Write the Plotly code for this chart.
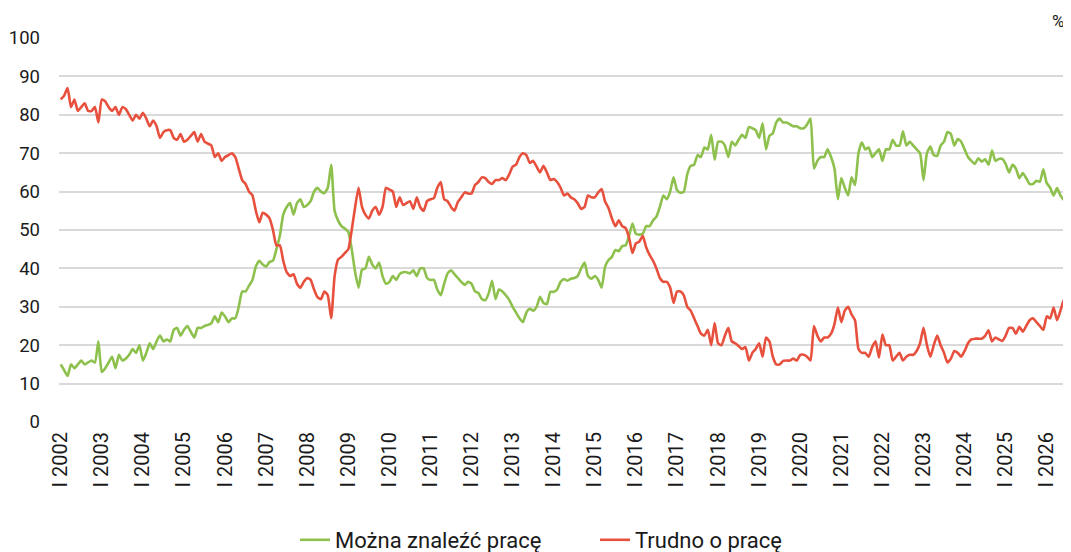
import plotly.graph_objects as go

years = list(range(2002, 2027))
roman = ["I", "II", "III", "IV", "V", "VI", "VII", "VIII", "IX", "X", "XI", "XII"]

mozna = [
    15, 13.5, 12, 15, 14, 15, 16, 15, 15.5, 16, 15.5, 21,
    13, 14, 15.5, 17, 14, 17.5, 16, 16.5, 17.5, 19, 18, 20,
    16, 18, 20.5, 19, 21, 22.5, 21, 21.5, 21, 24, 24.5, 22.5,
    24, 25, 23.5, 22, 24.5, 24.5, 25, 25.3, 25.7, 27.5, 26, 28.5,
    27.5, 26, 27, 27, 30, 34, 34, 35.5, 37, 40.5, 42, 41,
    40.5, 41.7, 42, 45, 48.5, 54, 56, 57, 54, 57, 58, 56,
    56.5, 57.5, 60, 61, 60, 59.6, 61, 67, 55, 52.5, 51, 50.4,
    49.5, 45, 39, 35, 39.7, 40, 43, 41, 40, 41.5, 38, 36,
    36.5, 38, 37, 38.5, 39, 39, 38.7, 39.5, 38, 40, 40, 37.5,
    37, 37, 34.5, 33, 36, 38.7, 39.5, 38.5, 37.5, 36.5, 35.7, 36.5,
    36, 34, 33.6, 32, 31.7, 33.5, 36.8, 32, 34.5, 34, 33, 31.8,
    30, 28.5, 27, 26, 28.5, 29.5, 29, 30, 32.6, 31, 30.7, 33.9,
    33.9, 34.5, 36.5, 37.2, 36.8, 37.3, 37.5, 38, 40, 41.5, 38, 37.3,
    38, 37, 35, 40.4, 42.2, 43, 44.8, 44.5, 45.8, 46, 48.5, 51.7,
    49, 48.8, 49, 51, 51, 52.5, 53.5, 56, 59, 58, 60, 63.7,
    60.4, 59.7, 60, 64.5, 66.7, 67, 69.5, 69, 71.5, 71, 74.8, 68.3,
    73, 73, 72, 69, 73, 72, 73.5, 74.8, 74, 76.8, 76.5, 76,
    74, 77.8, 71, 74.5, 75.2, 78, 79, 78, 78, 77.5, 77, 77,
    76.5, 76.5, 77.5, 79, 66, 68, 69, 69, 71, 69, 66, 58,
    63.5, 61, 59, 63.7, 61.7, 70, 72.8, 71, 71.5, 69, 70, 71,
    68, 71, 71, 73.5, 72, 72, 75.7, 72, 73, 72, 71, 70,
    63, 70, 71.7, 69.5, 69.3, 72, 73, 75.5, 75, 72, 73.7, 73,
    71, 69, 68, 67.2, 68.7, 67.8, 68.4, 67, 70.7, 68, 68.5, 68.5,
    67.2, 65, 67, 66, 63.5, 64.8, 63.5, 62, 62, 62.8, 62.6, 65.8,
    62.2, 61, 59, 60.9, 59, 57.8, 58.9,
]

trudno = [
    84, 85, 87, 82, 84, 81, 82, 83, 81, 81, 82, 78,
    84, 83.5, 82, 81, 82, 80, 82, 81.5, 80, 78.5, 80, 79,
    80.5, 79, 77, 78.5, 77, 74, 75.5, 76, 76, 74, 73.5, 75,
    73, 73.5, 74.5, 75.5, 73, 75, 73, 72.5, 72, 69, 70, 68,
    69, 69.5, 70, 69, 66, 63, 62, 60, 59, 55, 52, 54.5,
    54, 53, 50, 46, 46, 42, 39, 38, 38.5, 36, 35, 36.5,
    37.5, 37, 34.5, 32.5, 32, 34, 33, 27, 38, 42.3, 43, 44,
    45, 50, 56, 61, 56, 54, 53, 55, 56, 54, 56, 61,
    60.5, 60, 56, 58.5, 56.5, 57, 57.5, 55.5, 58.5, 56, 55, 57.5,
    58, 58.3, 61, 62.5, 58, 57.5, 56, 55, 57.3, 58.5, 59.8, 59.5,
    59.5, 61.7, 62.5, 63.7, 63.5, 62.5, 62, 63, 63, 63.5, 63, 64.5,
    66.5, 67, 69, 70, 69.5, 67.5, 68, 66.5, 65, 66.7, 65, 63,
    63.3, 62.5, 61, 59, 59.5, 58.5, 58, 57, 55.5, 56, 59, 58.5,
    58.5, 59.8, 60.7, 57.4, 55.7, 53, 51, 52.5, 51, 50.5, 48, 44,
    46.5, 47, 48.5, 45.5, 43.5, 42, 40, 37.5, 36.5, 36.5, 35, 31,
    34, 34, 33, 30, 29, 27, 25, 23, 22.5, 24, 20, 25.8,
    20.5, 20, 22.5, 24.5, 21, 20.5, 19.8, 19, 19.5, 16, 18, 19,
    20.5, 17, 22, 21, 17, 15, 15, 15.9, 16, 16, 16.5, 16,
    17.5, 17.5, 17, 16, 25, 22.5, 21, 22, 22, 23, 25.5, 29.8,
    26, 29, 30, 28, 26.5, 19, 18, 18, 17, 19.5, 21, 16.8,
    22.8, 20, 20, 16, 17, 18, 16, 17, 17.5, 17.5, 18.5, 20.5,
    24.5, 20, 17, 20, 22.5, 20, 18, 15.5, 16.5, 18.5, 18, 17,
    18.5, 20.5, 21.5, 21.7, 21.7, 21.7, 22.4, 23.9, 21, 22, 21.5, 21.1,
    22.5, 24.5, 24.5, 23, 24.8, 23.5, 25, 26.5, 27, 26, 25, 24,
    27.5, 27, 29.8, 26.5, 29, 31.8, 29,
]

n = min(len(mozna), len(trudno))
categories = [f"{roman[i % 12]} {years[0] + i // 12}" for i in range(n)]
tick_labels = [f"I {y}" for y in years]

GREEN = "#8dc04c"
RED = "#e8503e"
FONT = "Roboto"

# The page adds an 8px body margin, so the figure is sized to fit the window.
W, H = 1063, 544
L, R, T, B = 51, 2, 30, 130

fig = go.Figure()
fig.add_trace(go.Scatter(x=categories, y=mozna[:n], mode="lines", name="Można znaleźć pracę",
                         line=dict(color=GREEN, width=2.6, shape="spline", smoothing=0.5)))
fig.add_trace(go.Scatter(x=categories, y=trudno[:n], mode="lines", name="Trudno o pracę",
                         line=dict(color=RED, width=2.6, shape="spline", smoothing=0.5)))

fig.update_layout(
    width=W, height=H,
    margin=dict(l=L, r=R, t=T, b=B, autoexpand=False),
    paper_bgcolor="white", plot_bgcolor="white",
    font=dict(family=FONT, size=20, color="#1a1a1a"),
    showlegend=True,
    legend=dict(orientation="h", xref="container", yref="container",
                x=287 / W, xanchor="left", y=(H - 532) / H, yanchor="middle",
                font=dict(size=22), entrywidth=255, tracegroupgap=0),
    xaxis=dict(type="category", range=[-0.5, n - 0.5], tickmode="array",
               tickvals=tick_labels, ticktext=tick_labels, tickangle=-90,
               showgrid=False, zeroline=False, showline=False, ticks="",
               ticklabelstandoff=5, automargin=False, tickfont=dict(size=20)),
    yaxis=dict(range=[0, 100], dtick=10, showgrid=True, gridcolor="#d9d9d9", gridwidth=1.5,
               zeroline=False, showline=False, ticks="", ticklabelstandoff=18,
               automargin=False, tickfont=dict(size=18.5)),
    annotations=[dict(text="%", xref="paper", yref="paper",
                      x=(1058 - L) / (W - L - R), y=(H - B - 13) / (H - T - B),
                      xanchor="right", yanchor="middle", showarrow=False, font=dict(size=17))],
)

fig.write_html("out.html")
